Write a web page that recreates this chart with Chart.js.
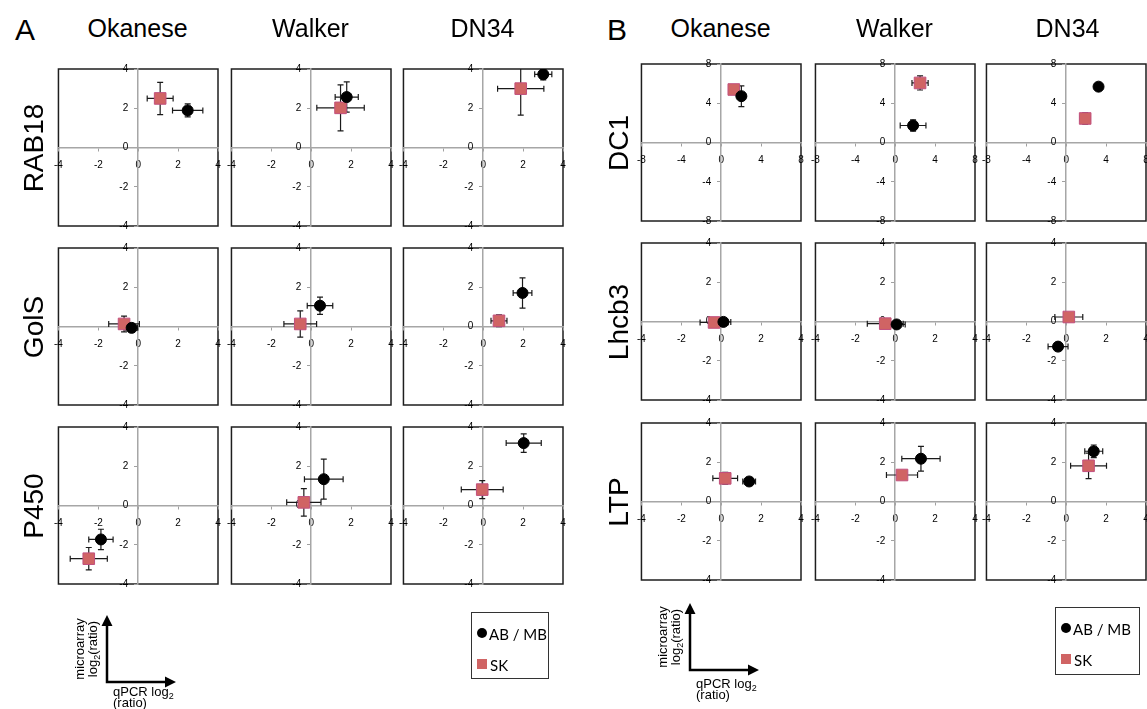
<!DOCTYPE html>
<html>
<head>
<meta charset="utf-8">
<title>qPCR vs microarray</title>
<script src="https://cdn.jsdelivr.net/npm/chart.js@4.4.1/dist/chart.umd.min.js"></script>
<style>
    html, body { margin: 0; padding: 0; background: #fff; overflow: hidden; }
    body { position: relative; width: 1147px; height: 709px; font-family: "Liberation Sans", Arial, sans-serif; color: #000; }
    .abs { position: absolute; }
    .centered { transform: translate(-50%, -50%); line-height: 1; white-space: nowrap; }
    .letter { font-size: 30px; }
    .strain { font-size: 25px; }
    .gene { font-size: 28px; transform: translate(-50%, -50%) rotate(-90deg); line-height: 1; white-space: nowrap; }
    .axis-note { font-size: 13px; line-height: 1; white-space: nowrap; }
    .axis-note.rot { transform: translate(-50%, -50%) rotate(-90deg); }
    .legend { border: 1.5px solid #333; box-sizing: border-box; font-family: Lato, "Open Sans", sans-serif; font-size: 15px; }
    .legend .item { position: absolute; left: 17px; line-height: 1; transform: translateY(-50%); white-space: nowrap; }
    .legend .dot { position: absolute; width: 10px; height: 10px; border-radius: 50%; background: #000; }
    .legend .sq { position: absolute; width: 10px; height: 10px; background: #d06464; }
    sub { font-size: 9px; vertical-align: -3px; line-height: 0; }
</style>
</head>
<body>

<script>
/*
 * Microarray vs qPCR log2 ratios, one small scatter panel per gene and strain.
 * Each point: [x (qPCR), y (microarray), x error, y error]
 */

const strains = ["Okanese", "Walker", "DN34"];
const genesA = ["RAB18", "GolS", "P450"];
const genesB = ["DC1", "Lhcb3", "LTP"];

const ticksSmall = [-4, -2, 0, 2, 4];
const ticksWide = [-8, -4, 0, 4, 8];

// --- panel A ---
const rab18AbMb = [[2.48, 1.89, 0.76, 0.33], [1.78, 2.57, 0.58, 0.77], [3.01, 3.73, 0.43, 0.28]];
const rab18Sk   = [[1.10, 2.50, 0.65, 0.82], [1.47, 2.02, 1.19, 1.17], [1.88, 3.00, 1.16, 1.35]];
const golsAbMb  = [[-0.33, -0.07, 0.30, 0.15], [0.44, 1.06, 0.64, 0.44], [1.97, 1.71, 0.47, 0.77]];
const golsSk    = [[-0.71, 0.13, 0.77, 0.40], [-0.55, 0.13, 0.82, 0.67], [0.79, 0.29, 0.40, 0.30]];
const p450AbMb  = [[-1.87, -1.73, 0.61, 0.52], [0.63, 1.34, 0.97, 1.02], [2.03, 3.18, 0.88, 0.47]];
const p450Sk    = [[-2.48, -2.71, 0.93, 0.57], [-0.37, 0.16, 0.86, 0.70], [-0.05, 0.81, 1.05, 0.46]];

// --- panel B ---
const dc1AbMb   = [[2.02, 4.72, 0.20, 1.06], [1.79, 1.73, 1.29, 0.58], [3.24, 5.69, 0.30, 0.20]];
const dc1Sk     = [[1.26, 5.40, 0.50, 0.25], [2.49, 6.07, 0.81, 0.72], [1.90, 2.45, 0.50, 0.57]];
const lhcb3AbMb = [[0.11, -0.02, 0.37, 0.10], [0.07, -0.15, 0.43, 0.10], [-0.41, -1.28, 0.50, 0.15]];
const lhcb3Sk   = [[-0.36, -0.05, 0.70, 0.10], [-0.50, -0.11, 0.90, 0.10], [0.13, 0.23, 0.70, 0.10]];
const ltpAbMb   = [[1.40, 1.02, 0.32, 0.10], [1.29, 2.18, 0.96, 0.63], [1.38, 2.56, 0.45, 0.32]];
const ltpSk     = [[0.20, 1.18, 0.62, 0.30], [0.34, 1.35, 0.78, 0.10], [1.12, 1.82, 0.90, 0.65]];

// layout of the boxes on the page
const PAD = 12;
const BOX_W = 161;
const BOX_H = 163;

const colLeftA = [57, 230, 402];
const rowTopA = [66, 245, 424];
const colLeftB = [640, 814, 985];
const rowTopB = [61, 240, 420];

// Draws the horizontal and vertical error bars, under the markers
const errorBarPlugin = {
    id: "errorBars",
    beforeDatasetsDraw(chart) {
        const ctx = chart.ctx;
        const xs = chart.scales.x;
        const ys = chart.scales.y;
        const area = chart.chartArea;
        ctx.save();
        ctx.beginPath();
        ctx.rect(area.left, area.top, area.right - area.left, area.bottom - area.top);
        ctx.clip();
        ctx.strokeStyle = "#1a1a1a";
        ctx.lineWidth = 1.2;
        const cap = 3;
        chart.data.datasets.forEach(ds => {
            ds.data.forEach(p => {
                const px = xs.getPixelForValue(p.x);
                const py = ys.getPixelForValue(p.y);
                const x1 = xs.getPixelForValue(p.x - p.xErr);
                const x2 = xs.getPixelForValue(p.x + p.xErr);
                const y1 = ys.getPixelForValue(p.y - p.yErr);
                const y2 = ys.getPixelForValue(p.y + p.yErr);
                ctx.beginPath();
                ctx.moveTo(x1, py); ctx.lineTo(x2, py);
                ctx.moveTo(x1, py - cap); ctx.lineTo(x1, py + cap);
                ctx.moveTo(x2, py - cap); ctx.lineTo(x2, py + cap);
                ctx.moveTo(px, y1); ctx.lineTo(px, y2);
                ctx.moveTo(px - cap, y1); ctx.lineTo(px + cap, y1);
                ctx.moveTo(px - cap, y2); ctx.lineTo(px + cap, y2);
                ctx.stroke();
            });
        });
        ctx.restore();
    }
};

// Black frame around the plot area (drawn first so the tick labels sit on top)
const framePlugin = {
    id: "frame",
    beforeDraw(chart) {
        const a = chart.chartArea;
        const ctx = chart.ctx;
        ctx.save();
        ctx.strokeStyle = "#1e1e1e";
        ctx.lineWidth = 1.5;
        ctx.strokeRect(a.left, a.top, a.right - a.left, a.bottom - a.top);
        ctx.restore();
    }
};

function toPoints(rows) {
    return rows.map(r => ({ x: r[0], y: r[1], xErr: r[2], yErr: r[3] }));
}

function axisOptions(tickValues, crossAt, isY) {
    return {
        type: "linear",
        position: crossAt,
        min: tickValues[0],
        max: tickValues[tickValues.length - 1],
        afterBuildTicks: scale => {
            scale.ticks = tickValues.map(v => ({ value: v }));
        },
        ticks: {
            autoSkip: false,
            maxRotation: 0,
            padding: 9,
            color: "#000",
            font: { family: "Liberation Sans", size: 10 },
            // the crossing y axis puts its labels flush on the line, so leave a gap
            callback: value => isY ? value + "\u2003" : String(value)
        },
        grid: { drawOnChartArea: false, drawTicks: true, tickLength: 3, color: "#a0a0a0" },
        border: { display: true, color: "#a6a6a6", width: 1.5 }
    };
}

function drawPanel(left, top, abmb, sk, tickValues) {
    const canvas = document.createElement("canvas");
    canvas.width = BOX_W + 2 * PAD;
    canvas.height = BOX_H + 2 * PAD;
    canvas.className = "abs";
    canvas.style.left = (left - PAD) + "px";
    canvas.style.top = (top - PAD) + "px";
    document.body.appendChild(canvas);

    new Chart(canvas.getContext("2d"), {
        type: "scatter",
        data: {
            datasets: [
                {
                    label: "AB / MB",
                    data: toPoints([abmb]),
                    pointStyle: "circle",
                    pointRadius: 5.5,
                    backgroundColor: "#000",
                    borderColor: "#000",
                    borderWidth: 1
                },
                {
                    label: "SK",
                    data: toPoints([sk]),
                    pointStyle: "rect",
                    pointRadius: 8.2,
                    backgroundColor: "#d06464",
                    borderColor: "#c2507e",
                    borderWidth: 1
                }
            ]
        },
        options: {
            responsive: false,
            animation: false,
            layout: { padding: PAD },
            plugins: { legend: { display: false }, tooltip: { enabled: false } },
            scales: {
                x: axisOptions(tickValues, { y: 0 }, false),
                y: axisOptions(tickValues, { x: 0 }, true)
            }
        },
        plugins: [framePlugin, errorBarPlugin]
    });
}

function addText(html, cls, x, y) {
    const el = document.createElement("div");
    el.className = "abs " + cls;
    el.style.left = x + "px";
    el.style.top = y + "px";
    el.innerHTML = html;
    document.body.appendChild(el);
    return el;
}

// === Main script execution after the page is loaded ===
document.addEventListener("DOMContentLoaded", function () {

    // --- panel A: RAB18, GolS, P450 ---
    const seriesA = [[rab18AbMb, rab18Sk], [golsAbMb, golsSk], [p450AbMb, p450Sk]];
    seriesA.forEach((pair, row) => {
        strains.forEach((s, col) => {
            drawPanel(colLeftA[col], rowTopA[row], pair[0][col], pair[1][col], ticksSmall);
        });
    });

    // --- panel B: DC1 (wider range), Lhcb3, LTP ---
    const seriesB = [[dc1AbMb, dc1Sk], [lhcb3AbMb, lhcb3Sk], [ltpAbMb, ltpSk]];
    seriesB.forEach((pair, row) => {
        strains.forEach((s, col) => {
            const ticks = row === 0 ? ticksWide : ticksSmall;
            drawPanel(colLeftB[col], rowTopB[row], pair[0][col], pair[1][col], ticks);
        });
    });

    // --- titles and labels ---
    addText("A", "centered letter", 25, 30);
    addText("B", "centered letter", 617, 30);

    strains.forEach((s, col) => {
        addText(s, "centered strain", colLeftA[col] + BOX_W / 2, 28);
        addText(s, "centered strain", colLeftB[col] + BOX_W / 2 + (col === 2 ? 2 : 0), 28);
    });

    genesA.forEach((g, row) => addText(g, "gene", 34, rowTopA[row] + BOX_H / 2));
    genesB.forEach((g, row) => addText(g, "gene", 619, rowTopB[row] + BOX_H / 2));

    // --- axis key (arrows) and legends ---
    const keys = [
        { cx: 107, cy: 682, top: 615, right: 176, textGap: 3, legX: 471, legY: 612, legW: 78, legH: 67 },
        { cx: 690, cy: 670, top: 603, right: 759, textGap: 7, legX: 1055, legY: 607, legW: 85, legH: 68 }
    ];
    const svgNS = "http://www.w3.org/2000/svg";
    const svg = document.createElementNS(svgNS, "svg");
    svg.setAttribute("width", "1147");
    svg.setAttribute("height", "709");
    svg.setAttribute("class", "abs");
    svg.style.left = "0px";
    svg.style.top = "0px";
    document.body.appendChild(svg);

    keys.forEach(k => {
        const path = document.createElementNS(svgNS, "path");
        path.setAttribute("d", `M${k.cx} ${k.top + 8} L${k.cx} ${k.cy} L${k.right - 8} ${k.cy}`);
        path.setAttribute("stroke", "#000");
        path.setAttribute("stroke-width", "2.5");
        path.setAttribute("fill", "none");
        svg.appendChild(path);
        const heads = document.createElementNS(svgNS, "path");
        heads.setAttribute("d",
            `M${k.cx - 5.5} ${k.top + 11} L${k.cx} ${k.top} L${k.cx + 5.5} ${k.top + 11} Z ` +
            `M${k.right - 11} ${k.cy - 5.5} L${k.right} ${k.cy} L${k.right - 11} ${k.cy + 5.5} Z`);
        heads.setAttribute("fill", "#000");
        svg.appendChild(heads);

        const midY = (k.top + k.cy) / 2;
        addText("microarray", "axis-note rot", k.cx - 28, midY);
        addText("log<sub>2</sub>(ratio)", "axis-note rot", k.cx - 15, midY);
        addText("qPCR log<sub>2</sub>", "axis-note", k.cx + 6, k.cy + k.textGap);
        addText("(ratio)", "axis-note", k.cx + 6, k.cy + k.textGap + 11);

        const leg = document.createElement("div");
        leg.className = "abs legend";
        leg.style.left = k.legX + "px";
        leg.style.top = k.legY + "px";
        leg.style.width = k.legW + "px";
        leg.style.height = k.legH + "px";
        leg.innerHTML =
            '<div class="dot" style="left:5px;top:15px"></div>' +
            '<div class="item" style="top:21px">AB / MB</div>' +
            '<div class="sq" style="left:5px;top:46px"></div>' +
            '<div class="item" style="top:52px;left:18px">SK</div>';
        document.body.appendChild(leg);
    });
});
</script>
</body>
</html>
